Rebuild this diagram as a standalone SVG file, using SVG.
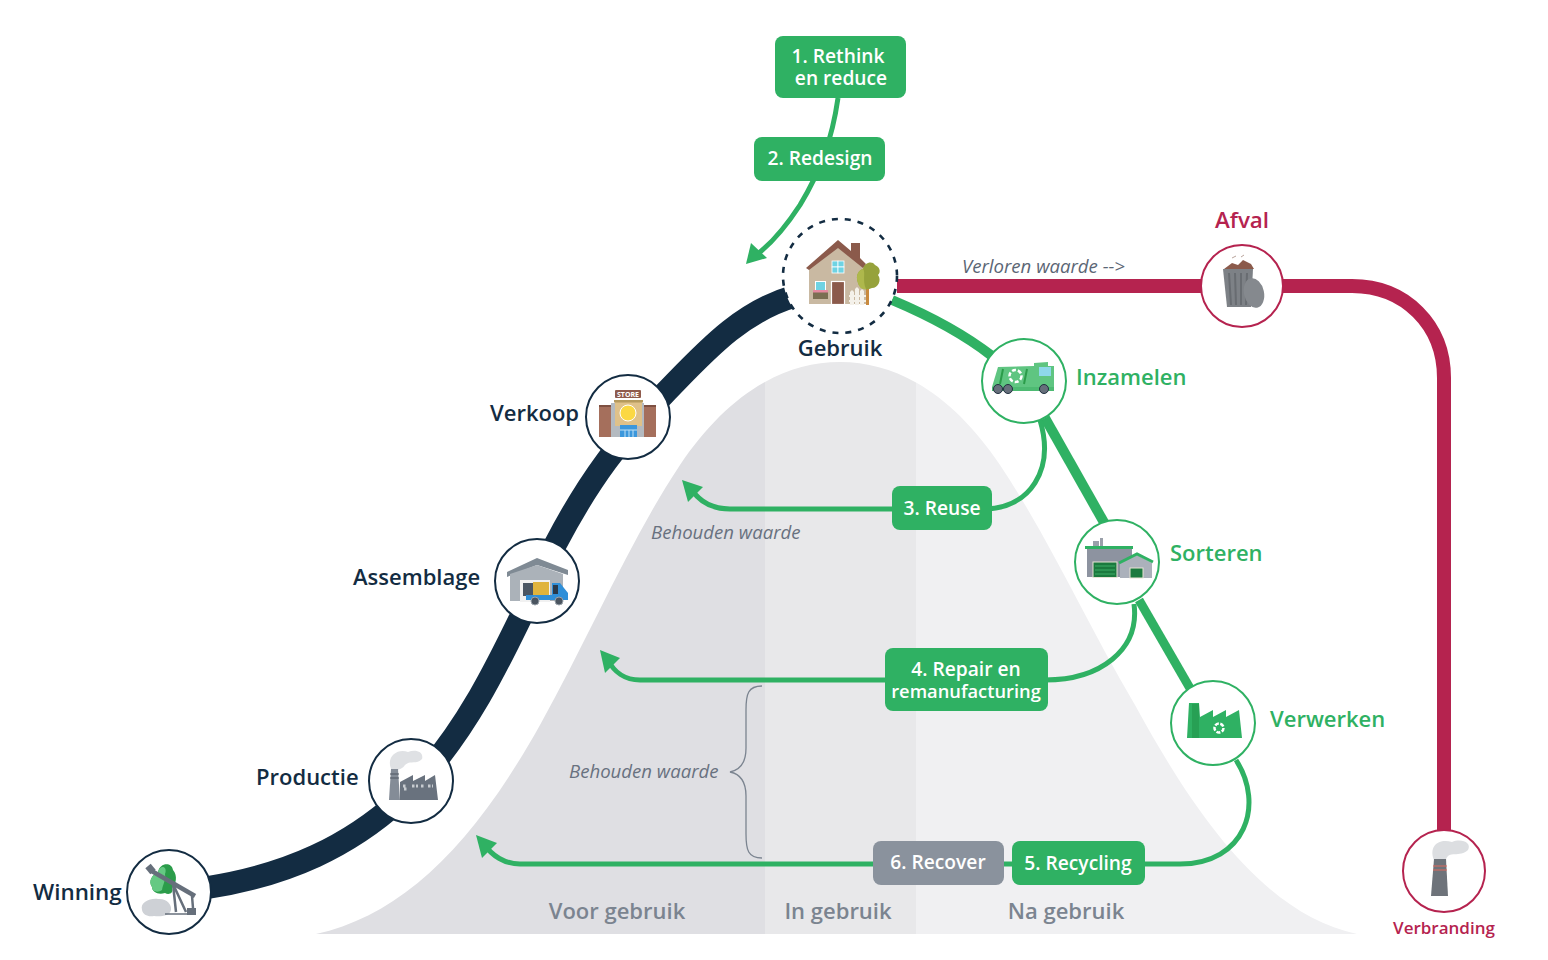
<svg xmlns="http://www.w3.org/2000/svg" width="1548" height="960" viewBox="0 0 1548 960">
<style>
text{font-family:"Open Sans","Noto Sans","Liberation Sans",sans-serif}
.nv{fill:#132c42;font-size:22px;font-weight:600}
.gl{fill:#2fb163;font-size:22px;font-weight:600}
.bx{fill:#fff;font-size:19.2px;font-weight:600;text-anchor:middle}
.sec{fill:#7b8490;font-size:22px;font-weight:600;text-anchor:middle}
.it{fill:#68717f;font-size:18.6px;font-style:italic}
.g{fill:none;stroke:#2fb163;stroke-width:5}
.ci{fill:#fff;stroke-width:2}
.box{fill:#2fb163}
</style>
<defs>
<clipPath id="cl"><rect x="0" y="0" width="765" height="960"/></clipPath>
<clipPath id="cm"><rect x="765" y="0" width="151" height="960"/></clipPath>
<clipPath id="cr"><rect x="916" y="0" width="632" height="960"/></clipPath>
<path id="bell" d="M316,934C400,915 470,850 540,725C590,635 630,540 680,465C725,398 780,362 840,362C900,362 955,398 1000,465C1050,540 1085,620 1135,705C1195,815 1265,915 1357,934Z"/>
</defs>
<rect width="1548" height="960" fill="#fff"/>
<g id="bell-curve">
<use href="#bell" fill="#dfdfe3" clip-path="url(#cl)"/>
<use href="#bell" fill="#e8e8ea" clip-path="url(#cm)"/>
<use href="#bell" fill="#f0f0f2" clip-path="url(#cr)"/>
<text class="sec" x="617" y="919">Voor gebruik</text>
<text class="sec" x="838" y="919">In gebruik</text>
<text class="sec" x="1066" y="919">Na gebruik</text>
<text class="it" x="651" y="539">Behouden waarde</text>
<text class="it" x="569" y="778">Behouden waarde</text>
<path d="M762,686C748,686 746,694 746,710L746,748C746,762 740,770 730,772C740,774 746,782 746,796L746,834C746,850 748,858 762,858" fill="none" stroke="#7b8490" stroke-width="1.3"/>
</g>
<g id="connectors">
<path d="M205,888C290,875 350,845 400,800C470,735 510,640 555,545C590,478 620,440 665,393C705,352 740,312 795,296" fill="none" stroke="#132c42" stroke-width="23"/>
<path d="M897,286H1352C1405,286 1444,325 1444,378V832" fill="none" stroke="#b5234f" stroke-width="14"/>
<path d="M892,300C930,316 965,335 992,356" fill="none" stroke="#2fb163" stroke-width="10"/>
<path d="M1045,418L1106,526" fill="none" stroke="#2fb163" stroke-width="10"/>
<path d="M1139,600L1191,690" fill="none" stroke="#2fb163" stroke-width="9"/>
<path class="g" d="M838,98C832,140 820,172 800,205C785,228 770,245 755,256"/>
<path class="g" d="M1040,420C1055,470 1030,508 985,509H730C712,509 700,502 692,490"/>
<path class="g" d="M1134,604C1140,650 1100,680 1045,680H640C625,680 614,672 608,660"/>
<path class="g" d="M1236,760C1265,805 1245,864 1180,864H520C505,864 492,856 484,844"/>
<polygon points="746,264 751,243 767,258" fill="#2fb163"/>
<polygon points="682,480 703,487 688,502" fill="#2fb163"/>
<polygon points="600,650 620,658 605,673" fill="#2fb163"/>
<polygon points="476,835 497,843 482,858" fill="#2fb163"/>
<text class="it" x="962" y="273" style="fill:#5b6675;font-size:18.6px">Verloren waarde --&gt;</text>
</g>
<g id="box-rethink"><rect class="box" x="775" y="36" width="131" height="62" rx="8"/><text class="bx" x="838" y="63">1. Rethink</text><text class="bx" x="841" y="85">en reduce</text></g>
<g id="box-redesign"><rect class="box" x="754" y="137" width="131" height="44" rx="8"/><text class="bx" x="820" y="165">2. Redesign</text></g>
<g id="box-reuse"><rect class="box" x="892" y="486" width="100" height="44" rx="8"/><text class="bx" x="942" y="515">3. Reuse</text></g>
<g id="box-repair"><rect class="box" x="885" y="648" width="163" height="63" rx="8"/><text class="bx" x="966" y="676">4. Repair en</text><text class="bx" x="966" y="698" style="font-size:18.3px">remanufacturing</text></g>
<g id="box-recover"><rect x="873" y="841" width="131" height="44" rx="8" fill="#8a929d"/><text class="bx" x="938" y="869">6. Recover</text></g>
<g id="box-recycling"><rect class="box" x="1012" y="841" width="133" height="44" rx="8"/><text class="bx" x="1078" y="870">5. Recycling</text></g>

<g id="gebruik">
<circle cx="840" cy="276" r="57" fill="#fff" stroke="#132c42" stroke-width="2.6" stroke-dasharray="6 7"/>
<polygon points="809,304 809,266 838,246 866,265 866,304" fill="#c9b9a2"/>
<polygon points="806,268 838,240 851,251 851,243 860,243 860,258 866,264 863,268 838,248 809,270" fill="#8b5a4b"/>
<g fill="#6fd3e3" stroke="#fff" stroke-width=".8"><rect x="832" y="261" width="6" height="6"/><rect x="838" y="261" width="6" height="6"/><rect x="832" y="267" width="6" height="6"/><rect x="838" y="267" width="6" height="6"/></g>
<rect x="831.500" y="281.500" width="13" height="23" fill="#8b5a4b" stroke="#fff" stroke-width="1.200"/>
<rect x="815.500" y="281.500" width="10" height="9" fill="#6fd3e3" stroke="#fff"/>
<rect x="813" y="292" width="15" height="7" fill="#7b6f52"/>
<rect x="813" y="290" width="15" height="2.500" fill="#e58aa0"/>
<path d="M850,305V292L852,290L854,292V305ZM855,305V289L857,287L859,289V305ZM860,305V291L862,289L864,291V305ZM849,295H866V297H849ZM849,300H866V302H849Z" fill="#f4f1ea"/>
<rect x="866" y="285" width="3" height="20" fill="#c98a3e"/>
<path d="M858,283C855,275 859,270 863,269C864,263 872,260 875,265C880,267 881,272 878,275C882,280 878,288 872,288C866,291 860,289 858,283Z" fill="#96a23b"/>
<path d="M858,283C855,275 859,270 863,269C866,272 862,280 866,289C862,290 859,287 858,283Z" fill="#aeb84c"/>
<text class="nv" x="840" y="356" text-anchor="middle">Gebruik</text>
</g>
<g id="verkoop">
<circle class="ci" cx="628" cy="417" r="42" stroke="#132c42"/>
<rect x="599" y="406" width="12" height="31" fill="#a56f5c"/><rect x="644" y="406" width="12" height="31" fill="#a56f5c"/>
<rect x="599" y="405" width="12" height="2" fill="#7e5042"/><rect x="644" y="405" width="12" height="2" fill="#7e5042"/>
<rect x="611" y="403" width="33" height="34" fill="#b4bac0"/>
<rect x="615" y="401" width="27" height="25" fill="#dfc189"/>
<rect x="614" y="400" width="29" height="2.500" fill="#b59a5e"/>
<circle cx="628" cy="413" r="8" fill="#fbd843" stroke="#fff"/>
<rect x="620" y="425" width="17" height="12" fill="#3b97dc"/>
<path d="M620,430H637M625,430V437M629,430V437M633,430V437" stroke="#bfe0f5" fill="none"/>
<rect x="615" y="390" width="26" height="8" rx="1" fill="#8f5b4d"/>
<text x="628" y="397" text-anchor="middle" style="font-size:7px;font-weight:700;fill:#fff">STORE</text>
<text class="nv" x="490" y="421">Verkoop</text>
</g>
<g id="assemblage">
<circle class="ci" cx="537" cy="581" r="42" stroke="#132c42"/>
<polygon points="507,572 537,558 568,570 568,575 537,565 507,577" fill="#7f8a94"/>
<polygon points="510,574 537,565 563,574 563,601 510,601" fill="#abb2b9"/>
<rect x="520" y="580" width="30" height="22" fill="#f1f1f1"/><rect x="523" y="583" width="11" height="13" fill="#4a5663"/>
<rect x="533" y="582" width="16" height="13" fill="#e0b43d"/>
<path d="M526,595H552V583H560L568,593V600H526Z" fill="#2f8fd8"/>
<rect x="553" y="585" width="5" height="9" fill="#29394a"/>
<circle cx="535" cy="601" r="4" fill="#4b5560" stroke="#9aa3ab"/><circle cx="559" cy="601" r="4" fill="#4b5560" stroke="#9aa3ab"/>
<text class="nv" x="353" y="585">Assemblage</text>
</g>
<g id="productie">
<circle class="ci" cx="411" cy="781" r="42" stroke="#132c42"/>
<path d="M391,769C386,756 398,748 408,752C416,749 424,752 422,759C416,765 410,760 405,765C402,770 395,771 391,769Z" fill="#dfe1e4"/>
<path d="M389,800L391,769H398L400,800Z" fill="#848c97"/>
<path d="M390,774H399M390,778H399" stroke="#4e5763" stroke-width="1.200"/>
<polygon points="400,800 400,782 413,775 413,781 425,775 425,781 435,775 438,800" fill="#69727e"/>
<path d="M403,786H407M404,789H407M412,786H418M421,786H425M428,786H433" stroke="#c7cbd0" stroke-width="3" stroke-dasharray="2.500 1.500"/>
<text class="nv" x="256" y="785">Productie</text>
</g>
<g id="winning">
<circle class="ci" cx="169" cy="892" r="42" stroke="#132c42"/>
<path d="M158,872C160,862 172,862 173,870C178,876 176,884 172,888C174,894 168,895 165,893C158,895 152,892 152,887C148,881 152,875 158,872Z" fill="#2b9c4a"/>
<path d="M158,872C160,864 168,866 165,874C166,880 163,884 162,890C158,893 152,892 152,887C148,881 152,875 158,872Z" fill="#65c983"/>
<path d="M142,910C140,902 150,898 158,899C166,898 172,904 171,910C170,916 160,917 154,916C148,917 143,915 142,910Z" fill="#ced1d6"/>
<path d="M150,870L195,896" stroke="#666f7b" stroke-width="4.500" fill="none"/>
<path d="M148,866L153,872" stroke="#666f7b" stroke-width="7" fill="none"/>
<path d="M173,884L176,912M173,884L186,912M192,896L193,908" stroke="#666f7b" stroke-width="2.500" fill="none"/>
<rect x="187" y="908" width="9" height="7" fill="#666f7b"/>
<path d="M165,914H188" stroke="#666f7b" stroke-width="1.500"/>
<text class="nv" x="33" y="900" style="font-size:22.400px">Winning</text>
</g>
<g id="inzamelen">
<circle class="ci" cx="1024" cy="381" r="42" stroke="#2fb163"/>
<polygon points="998,367 1034,366 1034,387 992,387" fill="#5fc581"/>
<path d="M1003,369L1000,384M1027,369L1024,384" stroke="#2b9c4a" stroke-width="2"/>
<path d="M1034,363L1048,362V366H1054V389H1034Z" fill="#5fc581"/><rect x="1039" y="367" width="12" height="9" fill="#8ed8ea"/>
<path d="M992,387H1054V391H992Z" fill="#4dba72"/>
<circle cx="1015.500" cy="376" r="6" fill="none" stroke="#fff" stroke-width="2.500" stroke-dasharray="4 2"/>
<circle cx="998" cy="389" r="4.500" fill="#666f7b" stroke="#20303f" stroke-width="1"/><circle cx="1008" cy="389" r="4.500" fill="#666f7b" stroke="#20303f" stroke-width="1"/><circle cx="1044" cy="389" r="4.500" fill="#666f7b" stroke="#20303f" stroke-width="1"/>
<text class="gl" x="1076" y="385">Inzamelen</text>
</g>
<g id="sorteren">
<circle class="ci" cx="1117" cy="562" r="42" stroke="#2fb163"/>
<rect x="1093" y="541" width="6" height="6" fill="#9aa0aa"/><rect x="1100" y="538" width="3" height="9" fill="#9aa0aa"/>
<rect x="1087" y="547" width="45" height="30" fill="#8d93a0"/>
<rect x="1085" y="546" width="48" height="3" fill="#2fb163"/>
<polygon points="1120,578 1120,563 1137,555 1152,563 1152,578" fill="#abb1bb"/>
<path d="M1119,563L1137,554L1153,562" stroke="#2fb163" stroke-width="3" fill="none"/>
<rect x="1093" y="562" width="24" height="15.500" fill="#1b7a3e" stroke="#e8e4d4"/>
<path d="M1095,566H1115M1095,570H1115M1095,574H1115" stroke="#3fae66" stroke-width="1"/>
<rect x="1130" y="568" width="13" height="10" fill="#1b7a3e" stroke="#e8e4d4"/>
<text class="gl" x="1170" y="561">Sorteren</text>
</g>
<g id="verwerken">
<circle class="ci" cx="1213" cy="723" r="42" stroke="#2fb163"/>
<polygon points="1187,738 1189,703 1199,703 1200,717 1213,710 1213,717 1226,710 1226,717 1239,710 1242,738" fill="#2fb163"/>
<rect x="1192" y="704" width="7" height="34" fill="#27a054"/>
<circle cx="1219" cy="728" r="4.500" fill="none" stroke="#fff" stroke-width="2.500" stroke-dasharray="4 1.500"/>
<text class="gl" x="1270" y="727">Verwerken</text>
</g>
<g id="afval">
<circle class="ci" cx="1242" cy="286" r="41" stroke="#b5234f"/>
<path d="M1223,269H1253L1251,307H1227Z" fill="#7d8186"/>
<path d="M1229,273L1231,305M1235,273L1236,305M1241,273L1241,305M1247,273L1246,305" stroke="#686c71" stroke-width="2"/>
<path d="M1224,269L1232,263L1238,265L1243,260L1251,264L1254,269Z" fill="#8b5a4b"/>
<path d="M1232,258L1236,256M1241,257L1244,255" stroke="#b9a39b" stroke-width="1"/>
<ellipse cx="1254" cy="293" rx="10" ry="15" fill="#85898e" transform="rotate(-12 1254 293)"/>
<text x="1215" y="228" style="fill:#b5234f;font-size:22.400px;font-weight:600">Afval</text>
</g>
<g id="verbranding">
<circle class="ci" cx="1444" cy="871" r="41" stroke="#b5234f"/>
<path d="M1434,860C1428,845 1440,838 1452,842C1462,838 1472,843 1468,850C1460,858 1448,850 1446,860Z" fill="#dcdee1"/>
<path d="M1431,896L1434,859H1446L1448,896Z" fill="#6e737a"/>
<path d="M1433,866H1447M1433,870H1447" stroke="#e06a5c" stroke-width="1.200"/>
<text x="1444" y="934" text-anchor="middle" style="fill:#b5234f;font-size:17px;font-weight:600">Verbranding</text>
</g>
</svg>
